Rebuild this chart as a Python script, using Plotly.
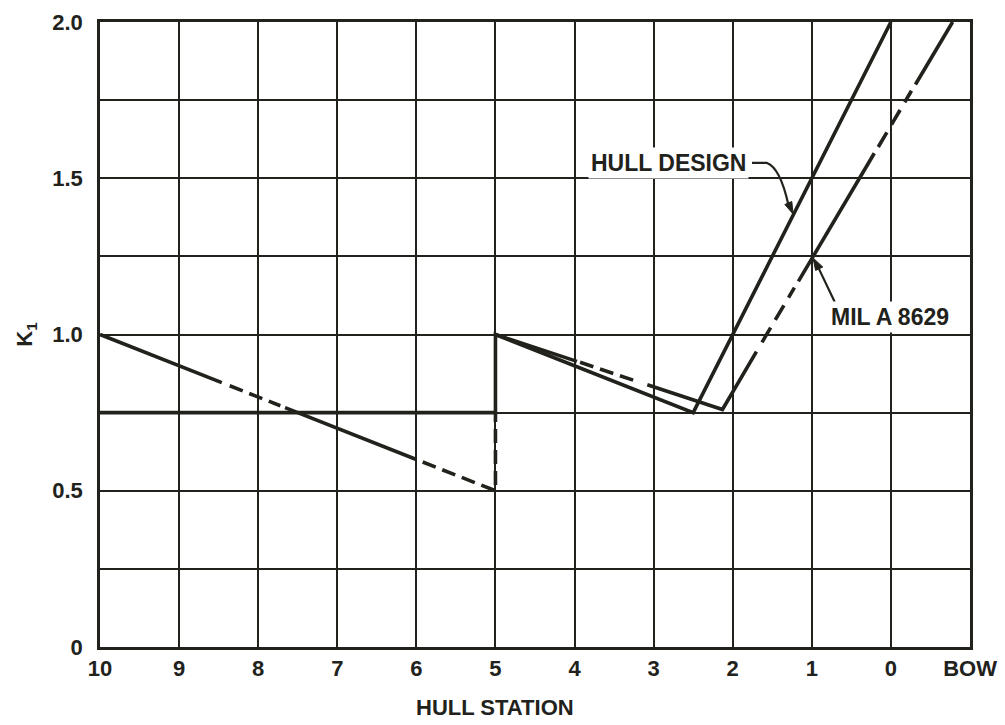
import plotly.graph_objects as go

# Axis categories: hull stations from stern (10) to bow; BOW plotted at -1
station_vals = [10, 9, 8, 7, 6, 5, 4, 3, 2, 1, 0, -1]
station_text = ["10", "9", "8", "7", "6", "5", "4", "3", "2", "1", "0", "BOW"]
k_ticks = [0, 0.5, 1.0, 1.5, 2.0]
k_text = ["0", "0.5", "1.0", "1.5", "2.0"]
k_minor_step = 0.25

# HULL DESIGN curve (solid)
hull_x = [10, 5, 5, 2.5, 0]
hull_y = [0.75, 0.75, 1.0, 0.75, 2.0]

# MIL A 8629 curve, split into its solid and broken runs
mil_solid_x = [10, 8.46, None, 7.66, 6.0, None, 5.0, 3.97, None, 3.08, 2.13, 1.70, None, 1.17, 0.21, None, -0.31, -0.78]
mil_solid_y = [1.0, 0.846, None, 0.766, 0.6, None, 1.0, 0.914, None, 0.839, 0.76, 0.945, None, 1.17, 1.58, None, 1.80, 2.0]
mil_dash_x = [8.36, 7.72, None, 5.92, 5.0, 5.0, None, 3.93, 3.2]
mil_dash_y = [0.836, 0.772, None, 0.592, 0.5, 0.75, None, 0.911, 0.849]
mil_dash2_x = [1.63, 1.22, None, 0.16, -0.26]
mil_dash2_y = [0.975, 1.15, None, 1.60, 1.78]

INK = "#22221c"
FONT = "Liberation Sans, Arial, sans-serif"
LW = 3.6
FS = 22

fig = go.Figure()
fig.add_trace(go.Scatter(x=mil_dash_x, y=mil_dash_y, mode="lines",
                         line=dict(color=INK, width=LW, dash="14px,7px"),
                         connectgaps=False, hoverinfo="skip"))
fig.add_trace(go.Scatter(x=mil_dash2_x, y=mil_dash2_y, mode="lines",
                         line=dict(color=INK, width=LW, dash="17px,9px"),
                         connectgaps=False, hoverinfo="skip"))
fig.add_trace(go.Scatter(x=mil_solid_x, y=mil_solid_y, mode="lines",
                         line=dict(color=INK, width=LW),
                         connectgaps=False, hoverinfo="skip"))
fig.add_trace(go.Scatter(x=hull_x, y=hull_y, mode="lines",
                         line=dict(color=INK, width=LW), hoverinfo="skip"))

label_font = dict(family=FONT, size=FS, color=INK, weight="bold")

# HULL DESIGN label, dash + curved leader and arrowhead
fig.add_annotation(x=1.80, y=1.549, xref="x", yref="y", text="HULL DESIGN",
                   showarrow=False, xanchor="right", yanchor="middle",
                   font=dict(family=FONT, size=23, color=INK, weight="bold"),
                   bgcolor="white", borderpad=2)
fig.add_shape(type="path", xref="x", yref="y",
              path="M 1.756,1.549 L 1.566,1.549 Q 1.40,1.533 1.297,1.416",
              line=dict(color=INK, width=2.2))
fig.add_shape(type="path", xref="x", yref="y",
              path="M 1.238,1.386 L 1.253,1.4256 L 1.341,1.416 Z",
              fillcolor=INK, line=dict(color=INK, width=1))

# MIL A 8629 label, straight leader and arrowhead
fig.add_annotation(x=0.80, y=1.056, xref="x", yref="y", text="MIL A 8629",
                   showarrow=False, xanchor="left", yanchor="middle",
                   font=dict(family=FONT, size=23, color=INK, weight="bold"),
                   bgcolor="white", borderpad=2)
fig.add_shape(type="line", xref="x", yref="y", x0=0.71, y0=1.104, x1=0.91, y1=1.21,
              line=dict(color=INK, width=2.2))
fig.add_shape(type="path", xref="x", yref="y",
              path="M 0.985,1.245 L 0.861,1.216 L 0.952,1.205 Z",
              fillcolor=INK, line=dict(color=INK, width=1))

# Horizontal axis title, centred under station 5
fig.add_annotation(x=5, y=-0.096, xref="x", yref="paper", text="HULL STATION",
                   showarrow=False, xanchor="center", yanchor="middle",
                   font=label_font)

fig.update_layout(
    width=1005, height=725,
    margin=dict(l=100, r=35, t=22, b=78, autoexpand=False),
    paper_bgcolor="white", plot_bgcolor="white",
    showlegend=False,
    font=dict(family=FONT, color=INK, size=FS, weight="bold"),
)
fig.update_xaxes(range=[10, -1], tickvals=station_vals, ticktext=station_text,
                 showgrid=True, gridcolor=INK, gridwidth=2, automargin=False,
                 showline=True, linecolor=INK, linewidth=2.5, mirror=True,
                 zeroline=False, ticks="", ticklabelstandoff=0,
                 tickfont=dict(family=FONT, size=FS, color=INK, weight="bold"))
fig.update_yaxes(range=[0, 2], tickvals=k_ticks, ticktext=k_text,
                 showgrid=True, gridcolor=INK, gridwidth=2, automargin=False,
                 minor=dict(dtick=k_minor_step, tick0=0, showgrid=True,
                            gridcolor=INK, gridwidth=2, ticks=""),
                 showline=True, linecolor=INK, linewidth=2.5, mirror=True,
                 zeroline=False, ticks="", ticklabelstandoff=10,
                 tickfont=dict(family=FONT, size=FS, color=INK, weight="bold"),
                 title=dict(text="K<sub>1</sub>", standoff=14,
                            font=dict(family=FONT, size=FS, color=INK, weight="bold")))

fig.write_html("out.html")
